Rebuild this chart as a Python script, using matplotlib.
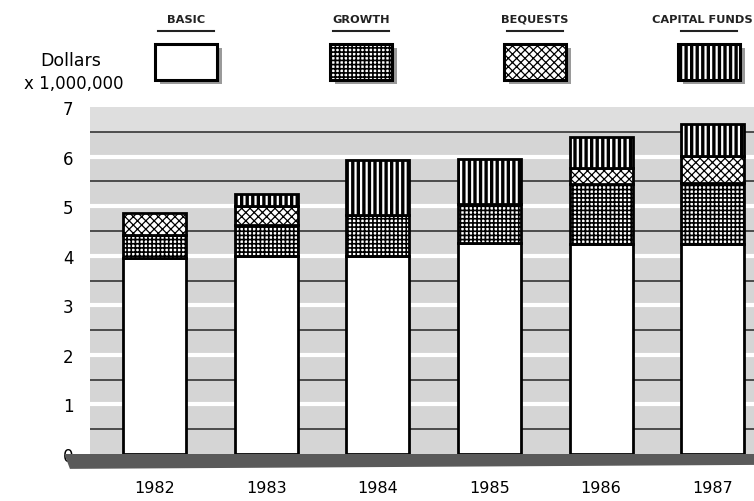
import matplotlib
matplotlib.use("Agg")
import matplotlib.pyplot as plt
from matplotlib.patches import Rectangle, Polygon
import numpy as np

years = ['1982', '1983', '1984', '1985', '1986', '1987']
basic = [3.95, 4.0, 4.0, 4.25, 4.23, 4.23]
growth = [0.47, 0.61, 0.83, 0.79, 1.21, 1.23]
bequests = [0.45, 0.40, 0.0, 0.0, 0.33, 0.55]
capital = [0.0, 0.24, 1.11, 0.91, 0.62, 0.64]
series_names = ['BASIC', 'GROWTH', 'BEQUESTS', 'CAPITAL FUNDS']
yticks = [0, 1, 2, 3, 4, 5, 6, 7]

plt.rcParams['hatch.linewidth'] = 1.2
plt.rcParams['font.family'] = ['DejaVu Sans']

W, H = 754, 502
fig = plt.figure(figsize=(W / 100, H / 100), dpi=100)
fig.patch.set_facecolor('white')

ax = fig.add_axes([90 / W, 1 - 455 / H, 1 - 90 / W, (455 - 108) / H])
ax.set_facecolor('#d5d5d5')
ax.set_xlim(-0.58, 5.37)
ax.set_ylim(0, 7)
ax.axhspan(6.5, 7, color='#dedede', zorder=0.5, lw=0)

for v in range(1, 7):
    ax.axhline(v, color='white', lw=3, zorder=1)
for v in np.arange(0.5, 7, 1.0):
    ax.axhline(v, color='#353535', lw=1.2, zorder=1)

styles = [dict(facecolor='white', hatch=None, hlw=1.0),
          dict(facecolor='white', hatch='++++', hlw=1.2),
          dict(facecolor='white', hatch='xxxx', hlw=0.9),
          dict(facecolor='white', hatch='|||', hlw=2.4)]


def set_hlw(patch, lw):
    if hasattr(patch, 'set_hatch_linewidth'):
        patch.set_hatch_linewidth(lw)
    else:
        patch._hatch_linewidth = lw


x = np.arange(len(years))
bottom = np.zeros(len(years))
for vals, st in zip([basic, growth, bequests, capital], styles):
    vals = np.array(vals)
    mask = vals > 0
    bars = ax.bar(x[mask], vals[mask], bottom=bottom[mask], width=0.565,
                  facecolor=st['facecolor'], hatch=st['hatch'], edgecolor='black',
                  linewidth=2, zorder=3)
    for b in bars:
        set_hlw(b, st['hlw'])
    bottom = bottom + vals

# floor
floor = Polygon([(-0.81, 0), (5.37, 0), (5.37, -0.22), (-0.76, -0.30)],
                closed=True, facecolor='#5a5a5a', edgecolor='none',
                clip_on=False, zorder=2)
ax.add_patch(floor)

for s in ax.spines.values():
    s.set_visible(False)
ax.set_xticks(x)
ax.set_xticklabels(years, fontsize=11.5)
ax.tick_params(axis='x', length=0, pad=19)
ax.set_yticks(yticks)
ax.set_yticklabels([str(v) for v in yticks], fontsize=12)
ax.tick_params(axis='y', length=0, pad=12)

# y label
fig.text(71 / W, 1 - 61 / H, 'Dollars', ha='center', va='center', fontsize=12.5)
fig.text(74 / W, 1 - 84 / H, 'x 1,000,000', ha='center', va='center', fontsize=12)

# legend
leg_x = [155, 330, 504, 678]
leg_text_x = [186, 361, 535, 702]
sw_w, sw_h, sw_top = 62, 36, 45
for name, lx, tx, st in zip(series_names, leg_x, leg_text_x, styles):
    fig.text(tx / W, 1 - 20 / H, name, ha='center', va='center', fontsize=8.2,
             fontweight='semibold', color='#222222')
    fig.add_artist(plt.Line2D([(lx + 3) / W, (lx + sw_w - 3) / W],
                              [1 - 32 / H, 1 - 32 / H], color='#222222', lw=1.5))
    shadow = Rectangle(((lx + 5) / W, 1 - (sw_top + sw_h + 4) / H), sw_w / W, sw_h / H,
                       transform=fig.transFigure, facecolor='#9a9a9a', edgecolor='none')
    fig.add_artist(shadow)
    sw = Rectangle((lx / W, 1 - (sw_top + sw_h) / H), sw_w / W, sw_h / H,
                   transform=fig.transFigure, facecolor=st['facecolor'],
                   hatch=st['hatch'], edgecolor='black', lw=2.2)
    set_hlw(sw, st['hlw'])
    fig.add_artist(sw)

fig.savefig('out.png', dpi=100)
